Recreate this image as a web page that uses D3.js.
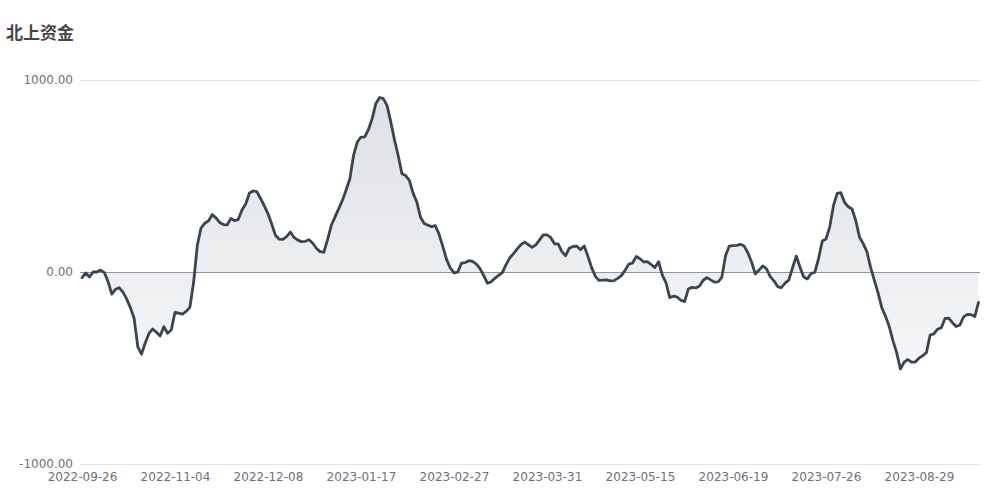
<!DOCTYPE html>
<html>
<head>
<meta charset="utf-8">
<script src="https://cdn.jsdelivr.net/npm/d3@7/dist/d3.min.js"></script>
<style>
html,body{margin:0;padding:0;background:#fff;}
svg{display:block;}
</style>
</head>
<body>
<svg id="chart" width="1000" height="500"></svg>
<script>
const title = "北上资金";
const tickLabels = ["2022-09-26","2022-11-04","2022-12-08","2023-01-17","2023-02-27","2023-03-31","2023-05-15","2023-06-19","2023-07-26","2023-08-29"];
const yTicks = [-1000, 0, 1000];
const values = [
-30,-5,-26,0,0,10,-3,-50,-115,-90,
-82,-105,-140,-186,-240,-390,-428,-370,-320,-297,
-314,-333,-285,-319,-302,-210,-214,-219,-205,-184,
-55,139,229,254,266,299,282,258,247,245,
279,268,273,323,354,411,422,419,383,345,
303,250,191,171,170,184,208,180,166,158,
160,168,151,124,106,103,167,242,286,329,
373,427,485,607,677,703,704,742,799,878,
909,903,868,783,688,607,512,502,477,411,
365,285,253,244,236,241,196,132,66,21,
-4,-1,46,49,59,55,41,18,-19,-59,
-51,-33,-18,-3,38,74,96,120,143,156,
142,128,141,167,193,193,180,147,146,106,
85,124,133,135,116,135,82,23,-23,-44,
-42,-41,-46,-45,-33,-19,9,41,47,81,
69,53,54,39,23,54,-16,-57,-133,-126,
-131,-147,-154,-89,-80,-83,-73,-43,-29,-41,
-53,-51,-28,85,135,137,139,144,135,100,
52,-10,10,32,17,-24,-46,-76,-81,-58,
-42,21,83,26,-26,-36,-8,-2,70,161,
172,234,344,409,413,362,340,328,269,182,
148,106,24,-44,-109,-186,-231,-284,-357,-420,
-505,-470,-456,-469,-469,-449,-436,-420,-328,-322,
-298,-290,-242,-241,-264,-284,-276,-234,-221,-222,
-232,-158
];
const tickEvery = 25;

const svg = d3.select("#chart");
const pLeft = 80, pRight = 980, pTop = 80, pBottom = 464;

const x = d3.scaleLinear().domain([0, values.length - 1]).range([82, 978.5]);
const y = d3.scaleLinear().domain([-1000, 1000]).range([pBottom, pTop]);

// title
svg.append("text")
  .attr("x", 6).attr("y", 39)
  .attr("font-family", "'Noto Sans CJK SC', sans-serif")
  .attr("font-weight", "bold")
  .attr("font-size", 17)
  .attr("fill", "#464646")
  .text(title);

// grid lines
svg.append("g").selectAll("line")
  .data(yTicks.filter(d => d !== 0))
  .join("line")
  .attr("x1", pLeft).attr("x2", pRight)
  .attr("y1", d => y(d)).attr("y2", d => y(d))
  .attr("stroke", "#e0e6f1").attr("stroke-width", 1)
  .attr("shape-rendering", "crispEdges");

// y labels
const yAxis = d3.axisLeft(y).tickValues(yTicks).tickFormat(d => d.toFixed(2)).tickSize(0).tickPadding(7);
const gy = svg.append("g").attr("transform", `translate(${pLeft},0)`).call(yAxis);
gy.select(".domain").remove();
gy.selectAll("text")
  .attr("font-family", "'DejaVu Sans', sans-serif")
  .attr("font-size", 12)
  .attr("fill", "#6e7079");

// gradient
const defs = svg.append("defs");
const grad = defs.append("linearGradient")
  .attr("id", "areaGrad")
  .attr("gradientUnits", "userSpaceOnUse")
  .attr("x1", 0).attr("x2", 0)
  .attr("y1", pTop).attr("y2", pBottom);
grad.append("stop").attr("offset", 0).attr("stop-color", "#dcdee2");
grad.append("stop").attr("offset", 1).attr("stop-color", "#ffffff");

const area = d3.area()
  .x((d, i) => x(i))
  .y0(y(0))
  .y1(d => y(d));

svg.append("path")
  .datum(values)
  .attr("d", area)
  .attr("fill", "url(#areaGrad)");

// zero axis line
svg.append("line")
  .attr("x1", pLeft).attr("x2", pRight)
  .attr("y1", y(0)).attr("y2", y(0))
  .attr("stroke", "#8f939b").attr("stroke-width", 1)
  .attr("shape-rendering", "crispEdges");

const line = d3.line()
  .x((d, i) => x(i))
  .y(d => y(d));

svg.append("path")
  .datum(values)
  .attr("d", line)
  .attr("fill", "none")
  .attr("stroke", "#3b4450")
  .attr("stroke-width", 2.8)
  .attr("stroke-linejoin", "round")
  .attr("stroke-linecap", "round");

// x labels
const xAxis = d3.axisBottom(x)
  .tickValues(d3.range(0, values.length, tickEvery).slice(0, tickLabels.length))
  .tickFormat((d, i) => tickLabels[i])
  .tickSize(0).tickPadding(8);
const gx = svg.append("g").attr("transform", `translate(0,${pBottom})`).call(xAxis);
gx.select(".domain").remove();
gx.selectAll("text")
  .attr("font-family", "'DejaVu Sans', sans-serif")
  .attr("font-size", 12)
  .attr("fill", "#6e7079");
</script>
</body>
</html>
